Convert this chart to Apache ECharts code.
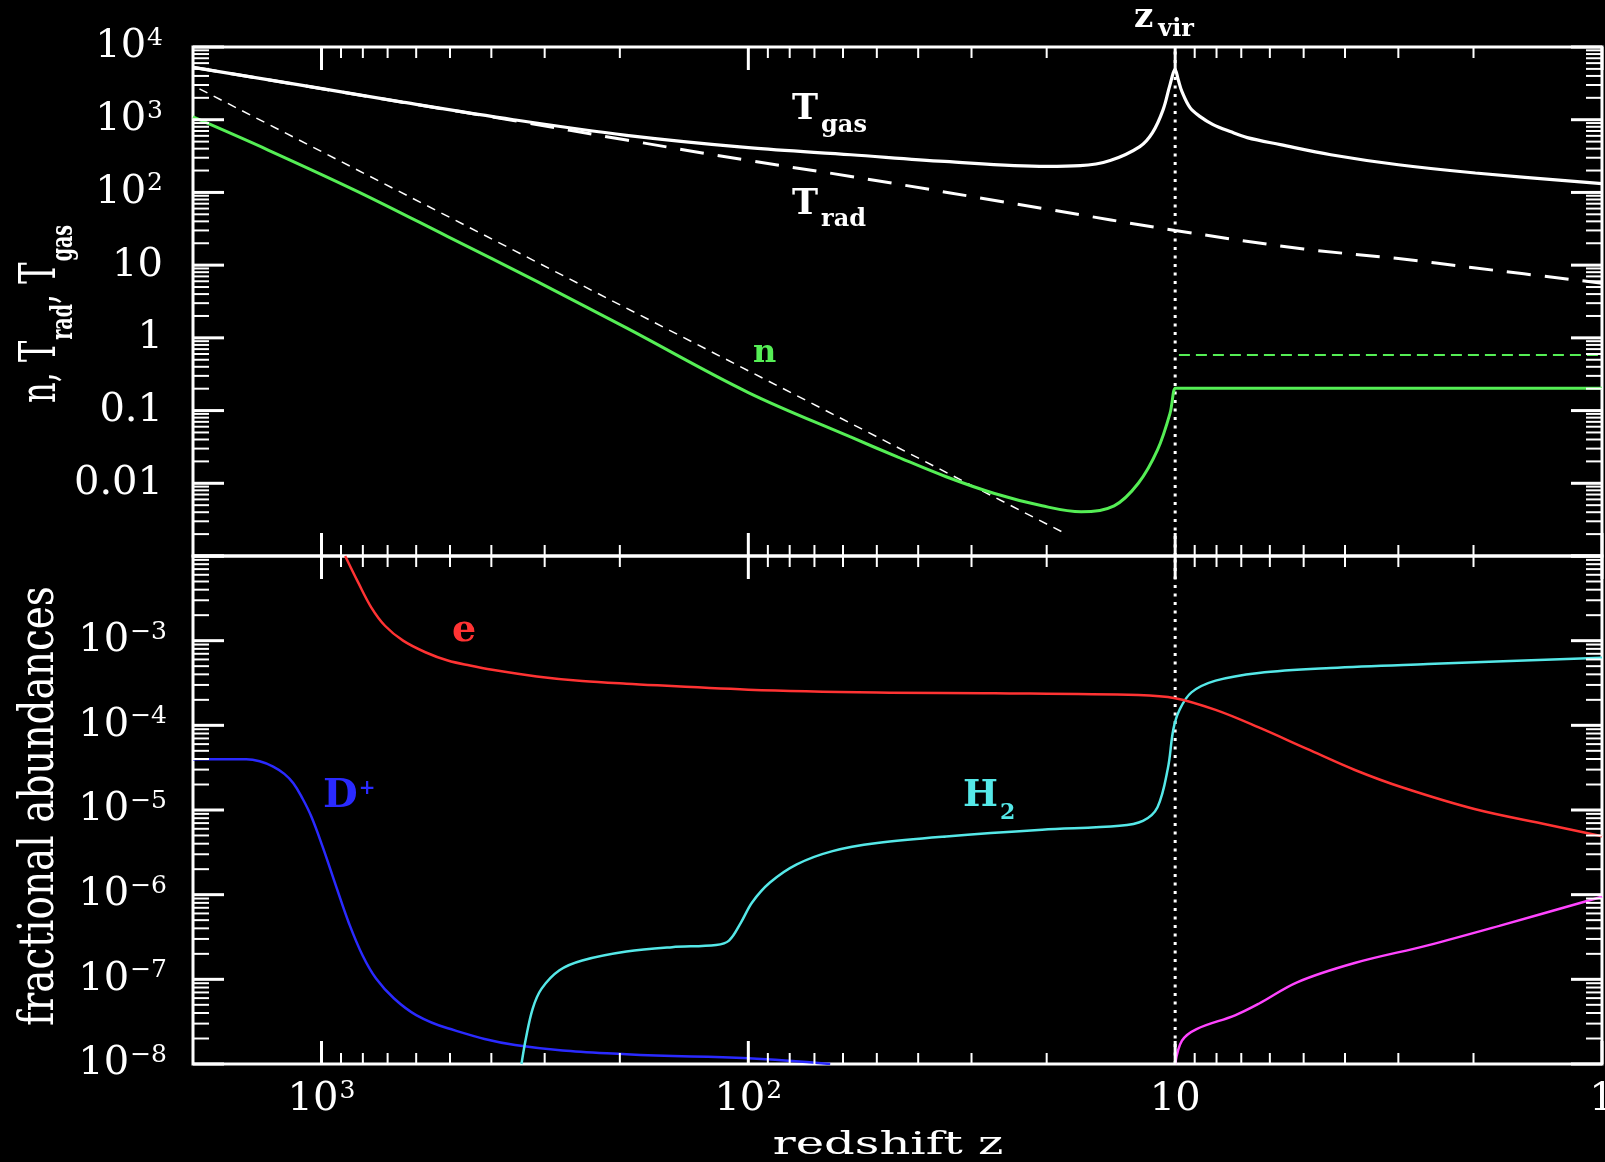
<!DOCTYPE html>
<html><head><meta charset="utf-8">
<script src="https://cdn.jsdelivr.net/npm/echarts@6/dist/echarts.min.js"></script>
<style>html,body{margin:0;padding:0;background:#000;}#c{width:1605px;height:1162px;}</style>
</head><body><div id="c"></div>
<script>
// ---------- data ----------
const zTgas = [2000, 1047, 646, 355, 193, 100, 57.5, 34.7, 20, 16.7, 14.2, 12.1, 11.3, 10.67, 10.28, 10, 9.84, 9.64, 9.23, 8.74, 8.15, 7.43, 6.78, 5.67, 4.32, 3.0, 1.98, 1];
const Tgas  = [5250, 2800, 1746, 1000, 610, 413, 330, 267, 228, 233, 275, 427, 664, 1377, 3040, 4900, 3565, 2438, 1469, 1104, 857, 686, 567, 454, 330, 240, 185, 132];

const zTrad = [2000, 1047, 646, 355, 193, 100, 57.5, 20, 10, 5, 3, 2, 1];
const Trad  = [5250, 2800, 1740, 975, 525, 275, 166, 59, 30, 16.7, 12.3, 9.2, 5.65];

const zNfit = [1932, 18.1];
const nFit  = [2660, 0.00204];

const zN  = [2000, 1330, 820, 506, 313, 193, 100, 57.8, 44.6, 34.4, 26.5, 20.5, 16.6, 13.9, 12.2, 11.0, 10.28, 10, 9.9, 1];
const nDen = [1090, 380, 102, 24.7, 5.97, 1.37, 0.177, 0.0437, 0.0229, 0.0123, 0.00724, 0.0049, 0.00405, 0.0049, 0.01, 0.0288, 0.092, 0.203, 0.203, 0.203];

const zNvir = [9.8, 1];
const nVir  = [0.58, 0.58];

const zE = [880, 820, 764, 710, 644, 571, 506, 449, 398, 313, 245, 193, 100, 50, 26.5, 12.2, 10, 8.04, 6.37, 4.91, 3.78, 2.92, 1.98, 1.34, 1];
const xE = [1.0e-2, 4.84e-3, 2.46e-3, 1.5e-3, 1.0e-3, 7.3e-4, 5.82e-4, 5.08e-4, 4.53e-4, 3.78e-4, 3.33e-4, 3.10e-4, 2.64e-4, 2.44e-4, 2.40e-4, 2.28e-4, 2.09e-4, 1.52e-4, 9.44e-5, 5.27e-5, 2.95e-5, 1.83e-5, 1.02e-5, 6.7e-6, 4.9e-6];

const zD = [2000, 1500, 1396, 1298, 1222, 1164, 1109, 1057, 995, 925, 861, 801, 745, 676, 600, 506, 352, 193, 100, 64.3];
const xD = [3.97e-5, 3.97e-5, 3.76e-5, 3.26e-5, 2.67e-5, 2.07e-5, 1.38e-5, 8.43e-6, 3.74e-6, 1.27e-6, 4.51e-7, 1.91e-7, 1.02e-7, 5.93e-8, 3.78e-8, 2.64e-8, 1.68e-8, 1.30e-8, 1.17e-8, 1.0e-8];

const zH2 = [340, 332, 320, 305, 277, 245, 193, 151, 119, 111, 104, 98, 89, 77, 63.5, 49.9, 34.4, 20.5, 13.5, 11.9, 11.0, 10.4, 10.1, 9.77, 9.16, 8.04, 6.37, 4.32, 2.56, 1];
const xH2 = [1e-8, 2.0e-8, 4.52e-8, 7.76e-8, 1.28e-7, 1.67e-7, 2.13e-7, 2.40e-7, 2.55e-7, 2.87e-7, 4.71e-7, 8.09e-7, 1.39e-6, 2.28e-6, 3.27e-6, 4.07e-6, 4.88e-6, 5.85e-6, 6.5e-6, 7.45e-6, 1.08e-5, 3.11e-5, 8.95e-5, 1.52e-4, 2.45e-4, 3.37e-4, 4.16e-4, 4.76e-4, 5.30e-4, 6.3e-4];

const zMg = [10, 9.64, 8.91, 7.24, 6.37, 5.18, 3.78, 2.56, 1.74, 1];
const xMg = [1e-8, 1.89e-8, 2.59e-8, 3.76e-8, 5.15e-8, 9.23e-8, 1.57e-7, 2.52e-7, 4.28e-7, 9.46e-7];

const zVir = 10;

// tick decades (exponents) and minor multiples
const xDecades = [0, 1, 2, 3];
const yTopDecades = [-3, -2, -1, 0, 1, 2, 3, 4];
const yBotDecades = [-8, -7, -6, -5, -4, -3, -2];
const minorMult = [2, 3, 4, 5, 6, 7, 8, 9];
const zMin = 1, zMax = 2000;

// ---------- helpers ----------
const pairs = (xs, ys) => xs.map((x, i) => [x, ys[i]]);
function line(xs, ys, g, color, width, type, smooth) {
  return { type: 'line', xAxisIndex: g, yAxisIndex: g, data: pairs(xs, ys), showSymbol: false, symbol: 'none',
    smooth: smooth === undefined ? 0.35 : smooth, lineStyle: { color, width, type: type || 'solid', cap: 'butt' },
    silent: true, animation: false, z: 3 };
}
function buildTicks(yDecs, xRef, yRef) {
  const out = [];
  yDecs.forEach((e, i) => {
    const b = Math.pow(10, e);
    out.push([xRef, b, 0, 1]);
    if (i < yDecs.length - 1) minorMult.forEach(m => out.push([xRef, m * b, 0, 0]));
  });
  xDecades.forEach(e => {
    const b = Math.pow(10, e);
    out.push([b, yRef, 1, 1]);
    minorMult.forEach(m => { if (m * b < zMax) out.push([m * b, yRef, 1, 0]); });
  });
  return out;
}
function renderTicks(params, api) {
  const cs = params.coordSys;
  const kind = api.value(2), major = api.value(3) === 1;
  const w = major ? 3 : 2;
  const st = { stroke: '#fff', lineWidth: w };
  const p = api.coord([api.value(0), api.value(1)]);
  if (kind === 0) {
    const L = major ? 31 : 16, y = p[1];
    return { type: 'group', children: [
      { type: 'line', shape: { x1: cs.x, y1: y, x2: cs.x + L, y2: y }, style: st },
      { type: 'line', shape: { x1: cs.x + cs.width - L, y1: y, x2: cs.x + cs.width, y2: y }, style: st }
    ] };
  }
  const L = major ? 23 : 11, x = p[0];
  return { type: 'group', children: [
    { type: 'line', shape: { x1: x, y1: cs.y, x2: x, y2: cs.y + L }, style: st },
    { type: 'line', shape: { x1: x, y1: cs.y + cs.height - L, x2: x, y2: cs.y + cs.height }, style: st }
  ] };
}
function decade(v) {
  const l = Math.log10(v), e = Math.round(l);
  return Math.abs(l - e) < 1e-6 ? e : null;
}
const supRich = { s: { fontSize: 25, lineHeight: 25, verticalAlign: 'top', fontFamily: 'DejaVu Serif', color: '#fff', padding: [0, 0, 0, 1] } };
const labelBase = { color: '#fff', fontFamily: 'DejaVu Serif', fontSize: 40, lineHeight: 42, rich: supRich, showMinLabel: true, showMaxLabel: true };

function ann(x, cMain, main, sub, color, F, f, cSub, gap) {
  const topMain = cMain - F / 2, topSub = cSub - f / 2;
  const base = Math.min(topMain, topSub);
  return { type: 'text', x: x, y: base, silent: true, z: 10,
    style: { text: sub ? '{t|' + main + '}{s|' + sub + '}' : '{t|' + main + '}', x: 0, y: 0, align: 'left', verticalAlign: 'top',
      rich: {
        t: { fontSize: F, lineHeight: F, fontWeight: 'bold', fontFamily: 'DejaVu Serif', fill: color, color: color, verticalAlign: 'top', padding: [topMain - base, 0, 0, 0] },
        s: { fontSize: f, lineHeight: f, fontWeight: 'bold', fontFamily: 'DejaVu Serif', fill: color, color: color, verticalAlign: 'top', padding: [topSub - base, 0, 0, gap || 0] }
      } } };
}

const GL = 193, GW = 1409;
const option = {
  backgroundColor: '#000',
  animation: false,
  grid: [
    { left: GL, top: 47, width: GW, height: 509, show: true, borderColor: '#fff', borderWidth: 3, backgroundColor: 'transparent', outerBoundsMode: 'none', containLabel: false },
    { left: GL, top: 556, width: GW, height: 508, show: true, borderColor: '#fff', borderWidth: 3, backgroundColor: 'transparent', outerBoundsMode: 'none', containLabel: false }
  ],
  xAxis: [
    { gridIndex: 0, type: 'log', logBase: 10, min: zMin, max: zMax, inverse: true, axisLine: { show: false }, axisTick: { show: false }, axisLabel: { show: false }, splitLine: { show: false } },
    { gridIndex: 1, type: 'log', logBase: 10, min: zMin, max: zMax, inverse: true, axisLine: { show: false }, axisTick: { show: false }, splitLine: { show: false },
      axisLabel: Object.assign({}, labelBase, { margin: 15, formatter: v => { const e = decade(v); if (e === null) return ''; if (e === 0) return '1'; if (e === 1) return '10'; return '10{s|' + e + '}'; } }) }
  ],
  yAxis: [
    { gridIndex: 0, type: 'log', logBase: 10, min: 1e-3, max: 1e4, axisLine: { show: false }, axisTick: { show: false }, splitLine: { show: false },
      axisLabel: Object.assign({}, labelBase, { margin: 30, formatter: v => { const e = decade(v); if (e === null || e === -3) return ''; const m = { 4: '10{s|4}', 3: '10{s|3}', 2: '10{s|2}', 1: '10', 0: '1', '-1': '0.1', '-2': '0.01' }; return m[e] || ''; } }) },
    { gridIndex: 1, type: 'log', logBase: 10, min: 1e-8, max: 1e-2, axisLine: { show: false }, axisTick: { show: false }, splitLine: { show: false },
      axisLabel: Object.assign({}, labelBase, { margin: 26, formatter: v => { const e = decade(v); if (e === null || e === -2) return ''; return '10{s|\u2212' + (-e) + '}'; } }) }
  ],
  series: [
    { type: 'custom', xAxisIndex: 0, yAxisIndex: 0, data: buildTicks(yTopDecades, 1, 1), renderItem: renderTicks, silent: true, animation: false, clip: false, z: 5 },
    { type: 'custom', xAxisIndex: 1, yAxisIndex: 1, data: buildTicks(yBotDecades, 1, 1e-5), renderItem: renderTicks, silent: true, animation: false, clip: false, z: 5 },
    line([zVir, zVir], [1e-3, 1e4], 0, '#fff', 3, [3, 5.5], false),
    line([zVir, zVir], [1e-8, 1e-2], 1, '#fff', 3, [3, 5.5], false),
    line(zTrad, Trad, 0, '#fff', 3, [24, 14]),
    line(zNfit, nFit, 0, '#fff', 1.5, [9, 7], false),
    line(zNvir, nVir, 0, '#55ee55', 2, [11, 6], false),
    line(zTgas, Tgas, 0, '#fff', 3.2),
    line(zN, nDen, 0, '#55ee55', 3),
    line(zD, xD, 1, '#2a2aff', 2.5, 'solid', 0.4),
    line(zH2, xH2, 1, '#55e8e8', 2.5),
    line(zE, xE, 1, '#ff3333', 2.5),
    line(zMg, xMg, 1, '#ff44ff', 2.5)
  ],
  graphic: { elements: [
    ann(792, 109.5, 'T', 'gas', '#fff', 35, 24, 126, 3),
    ann(792, 204.5, 'T', 'rad', '#fff', 35, 24, 220, 3),
    ann(753, 353.5, 'n', null, '#55ee55', 32, 10, 353.5, 0),
    ann(1134, 18, 'z', 'vir', '#fff', 34, 24, 30, 5),
    ann(452, 631, 'e', null, '#ff3333', 38, 10, 631, 0),
    ann(323, 797, 'D', '+', '#2a2aff', 40, 20, 789, 1),
    ann(963, 796.5, 'H', '2', '#55e8e8', 37, 22, 813, 2),
    { type: 'text', x: 888, y: 1146, scaleX: 1.5, silent: true,
      style: { text: 'redshift z', fill: '#fff', fontFamily: 'DejaVu Serif', fontSize: 32, align: 'center', verticalAlign: 'middle' } },
    { type: 'text', x: 40, y: 806, rotation: Math.PI / 2, scaleY: 1.25, silent: true,
      style: { text: 'fractional abundances', fill: '#fff', fontFamily: 'DejaVu Serif', fontSize: 39, align: 'center', verticalAlign: 'middle' } },
    { type: 'text', x: 42, y: 314, rotation: Math.PI / 2, scaleY: 1.6, silent: true,
      style: { text: '{m|n, T}{s|rad}{m|, T}{s|gas}', align: 'center', verticalAlign: 'middle',
        rich: {
          m: { fontSize: 32, lineHeight: 32, fontFamily: 'DejaVu Serif', fill: '#fff', color: '#fff', verticalAlign: 'top' },
          s: { fontSize: 19, lineHeight: 19, fontFamily: 'DejaVu Serif', fontWeight: 'bold', fill: '#fff', color: '#fff', verticalAlign: 'top', padding: [20, 0, 0, 1] }
        } } }
  ] }
};
const chart = echarts.init(document.getElementById('c'), null, { renderer: 'canvas' });
chart.setOption(option);
</script></body></html>
